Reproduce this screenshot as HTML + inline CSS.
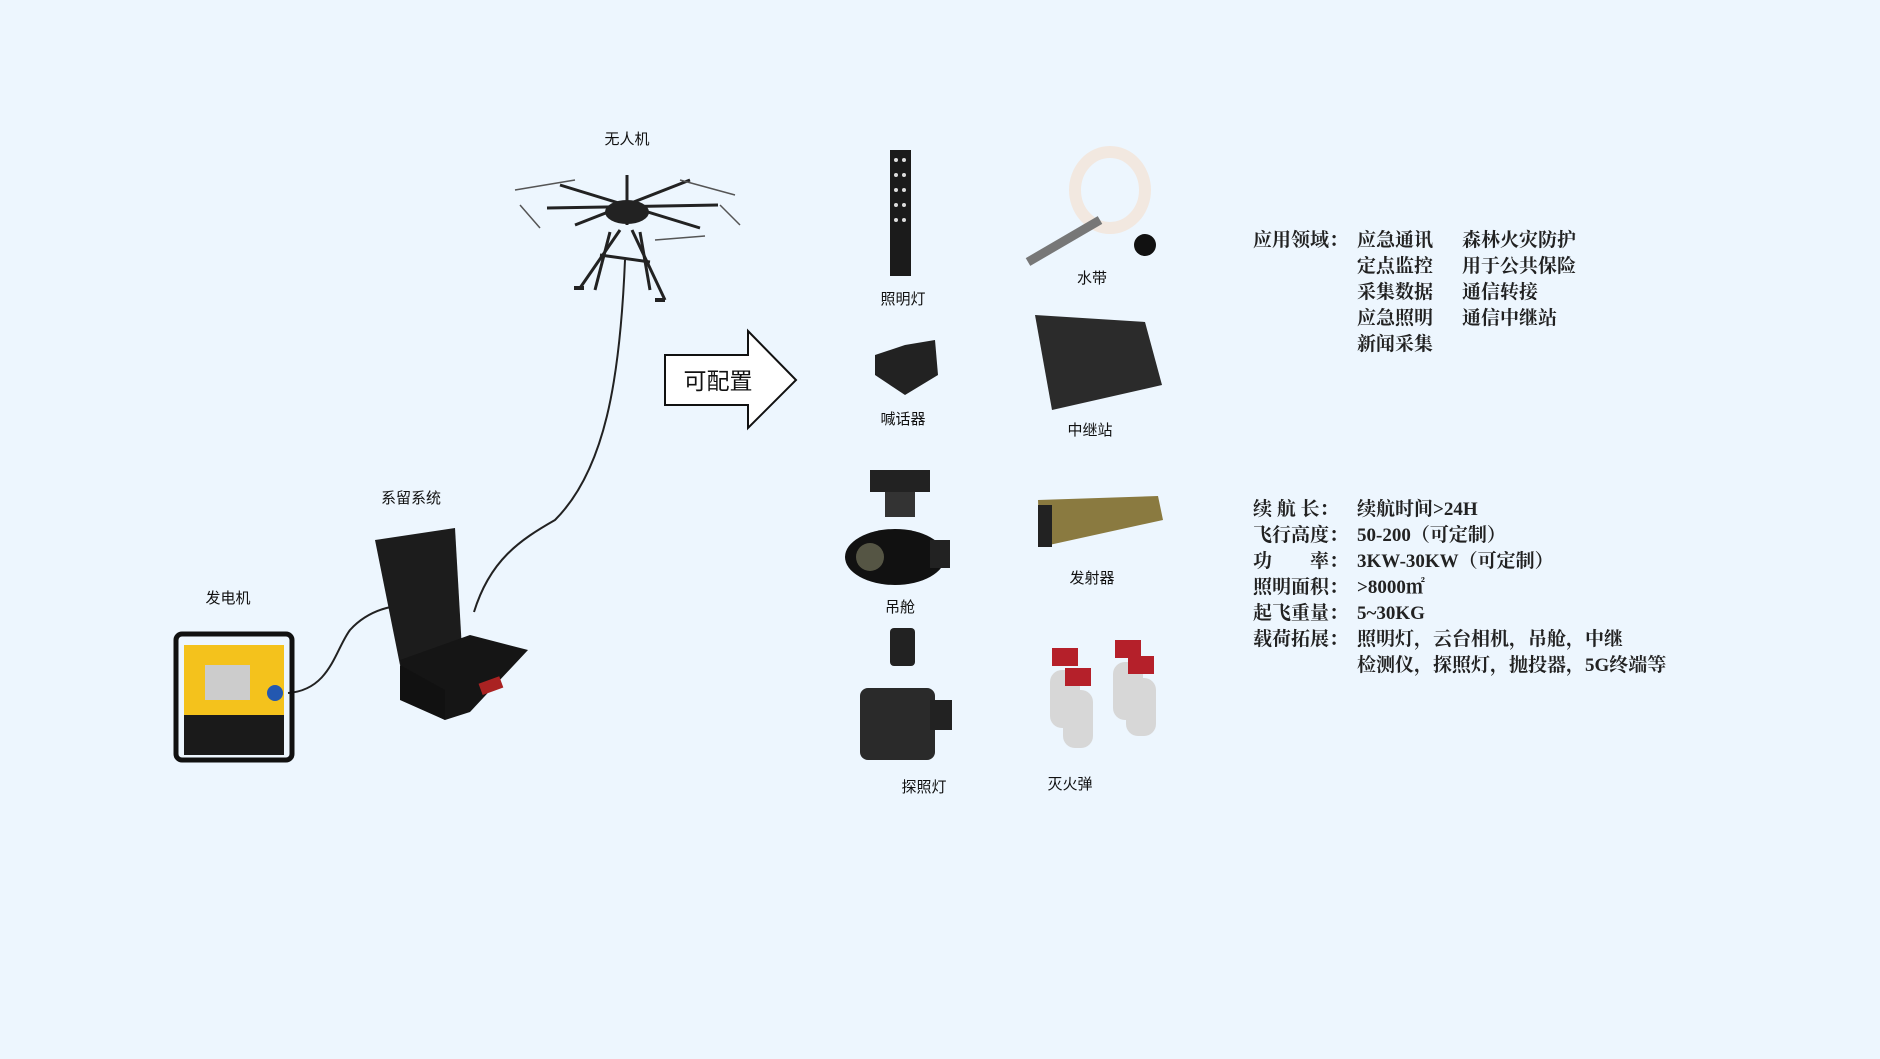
<!DOCTYPE html>
<html><head><meta charset="utf-8"><style>
html,body{margin:0;padding:0;background:#edf6fe;}
svg{display:block}
.l{font-family:"Liberation Sans","Noto Sans CJK SC",sans-serif;font-size:15px;fill:#111;text-anchor:middle}
.t{font-family:"Liberation Serif","Noto Serif CJK SC",serif;font-size:19px;fill:#222;font-weight:bold}
</style></head><body>
<svg width="1880" height="1059" viewBox="0 0 1880 1059" xmlns="http://www.w3.org/2000/svg">
<rect width="1880" height="1059" fill="#edf6fe"/>
<!-- drone -->
<g stroke="#222" stroke-width="3" fill="none">
<line x1="547" y1="208" x2="718" y2="205"/><line x1="560" y1="185" x2="700" y2="228"/>
<line x1="575" y1="225" x2="690" y2="180"/><line x1="627" y1="175" x2="627" y2="225"/>
<line x1="620" y1="230" x2="580" y2="288"/><line x1="632" y1="230" x2="665" y2="300"/>
<line x1="610" y1="232" x2="595" y2="290"/><line x1="640" y1="232" x2="650" y2="290"/>
<line x1="600" y1="255" x2="650" y2="262"/>
</g>
<g stroke="#555" stroke-width="1.5"><line x1="515" y1="190" x2="575" y2="180"/><line x1="680" y1="180" x2="735" y2="195"/><line x1="540" y1="228" x2="520" y2="205"/><line x1="720" y1="205" x2="740" y2="225"/><line x1="655" y1="240" x2="705" y2="236"/></g>
<ellipse cx="627" cy="212" rx="22" ry="12" fill="#222"/>
<rect x="574" y="286" width="10" height="4" fill="#222"/><rect x="655" y="298" width="10" height="4" fill="#222"/>
<text class="l" x="627" y="144">无人机</text>
<!-- cables -->
<path d="M625 260 C620 380 605 470 555 520 C520 540 490 560 474 612" stroke="#222" stroke-width="2" fill="none"/>
<path d="M288 693 C330 690 335 650 350 630 C370 608 395 605 420 603" stroke="#222" stroke-width="2" fill="none"/>
<!-- tether box -->
<polygon points="375,540 455,528 462,650 400,665" fill="#1c1c1c"/>
<polygon points="400,660 470,635 528,650 470,712 445,720 405,700" fill="#151515"/>
<polygon points="400,665 400,700 445,720 445,690" fill="#111"/>
<rect x="480" y="680" width="22" height="12" fill="#a22" transform="rotate(-20 490 686)"/>
<text class="l" x="411" y="503">系留系统</text>
<!-- generator -->
<rect x="176" y="634" width="116" height="126" rx="6" fill="none" stroke="#111" stroke-width="5"/>
<rect x="184" y="645" width="100" height="70" fill="#f4c21c"/>
<rect x="205" y="665" width="45" height="35" fill="#ccc"/>
<circle cx="275" cy="693" r="8" fill="#2358b0"/>
<rect x="184" y="715" width="100" height="40" fill="#1a1a1a"/>
<text class="l" x="228" y="603">发电机</text>
<!-- arrow -->
<polygon points="665,355 748,355 748,331 796,380 748,428 748,405 665,405" fill="#fff" stroke="#111" stroke-width="2"/>
<text x="718" y="389" font-family="Liberation Sans,Noto Sans CJK SC,sans-serif" font-size="23" fill="#111" text-anchor="middle">可配置</text>
<!-- products -->
<rect x="890" y="150" width="21" height="126" fill="#1b1b1b"/>
<g fill="#ddd"><circle cx="896" cy="160" r="2"/><circle cx="904" cy="160" r="2"/><circle cx="896" cy="175" r="2"/><circle cx="904" cy="175" r="2"/><circle cx="896" cy="190" r="2"/><circle cx="904" cy="190" r="2"/><circle cx="896" cy="205" r="2"/><circle cx="904" cy="205" r="2"/><circle cx="896" cy="220" r="2"/><circle cx="904" cy="220" r="2"/></g>
<text class="l" x="903" y="304">照明灯</text>
<ellipse cx="1110" cy="190" rx="35" ry="38" fill="none" stroke="#f2e8e0" stroke-width="12"/>
<line x1="1028" y1="262" x2="1100" y2="220" stroke="#777" stroke-width="9"/>
<circle cx="1145" cy="245" r="11" fill="#111"/>
<text class="l" x="1092" y="283">水带</text>
<polygon points="875,355 905,345 935,340 938,375 905,395 875,375" fill="#222"/>
<text class="l" x="903" y="424">喊话器</text>
<polygon points="1035,315 1145,322 1162,385 1052,410" fill="#2b2b2b"/>
<text class="l" x="1090" y="435">中继站</text>
<rect x="870" y="470" width="60" height="22" fill="#222"/><rect x="885" y="492" width="30" height="25" fill="#333"/>
<ellipse cx="895" cy="557" rx="50" ry="28" fill="#111"/><circle cx="870" cy="557" r="14" fill="#554"/>
<rect x="930" y="540" width="20" height="28" fill="#222"/>
<text class="l" x="900" y="612">吊舱</text>
<polygon points="1038,500 1158,496 1163,520 1040,547" fill="#8a7a40"/><rect x="1038" y="505" width="14" height="42" fill="#222"/>
<text class="l" x="1092" y="583">发射器</text>
<rect x="890" y="628" width="25" height="38" rx="4" fill="#222"/>
<rect x="860" y="688" width="75" height="72" rx="8" fill="#2a2a2a"/><rect x="930" y="700" width="22" height="30" fill="#222"/>
<text class="l" x="924" y="792">探照灯</text>
<g fill="#d7d7d7"><rect x="1050" y="670" width="30" height="58" rx="12"/><rect x="1063" y="690" width="30" height="58" rx="12"/><rect x="1113" y="662" width="30" height="58" rx="12"/><rect x="1126" y="678" width="30" height="58" rx="12"/></g>
<g fill="#b5202a"><rect x="1052" y="648" width="26" height="18"/><rect x="1065" y="668" width="26" height="18"/><rect x="1115" y="640" width="26" height="18"/><rect x="1128" y="656" width="26" height="18"/></g>
<text class="l" x="1070" y="789">灭火弹</text>
<!-- text block -->
<g class="t">
<text x="1253" y="246">应用领域：</text>
<text x="1357" y="246">应急通讯</text><text x="1462" y="246">森林火灾防护</text>
<text x="1357" y="272">定点监控</text><text x="1462" y="272">用于公共保险</text>
<text x="1357" y="298">采集数据</text><text x="1462" y="298">通信转接</text>
<text x="1357" y="324">应急照明</text><text x="1462" y="324">通信中继站</text>
<text x="1357" y="350">新闻采集</text>
<text x="1253" y="515">续 航 长：</text><text x="1357" y="515">续航时间&gt;24H</text>
<text x="1253" y="541">飞行高度：</text><text x="1357" y="541">50-200（可定制）</text>
<text x="1253" y="567">功　　率：</text><text x="1357" y="567">3KW-30KW（可定制）</text>
<text x="1253" y="593">照明面积：</text><text x="1357" y="593">&gt;8000㎡</text>
<text x="1253" y="619">起飞重量：</text><text x="1357" y="619">5~30KG</text>
<text x="1253" y="645">载荷拓展：</text><text x="1357" y="645">照明灯，云台相机，吊舱，中继</text>
<text x="1357" y="671">检测仪，探照灯，抛投器，5G终端等</text>
</g>
</svg>
</body></html>
